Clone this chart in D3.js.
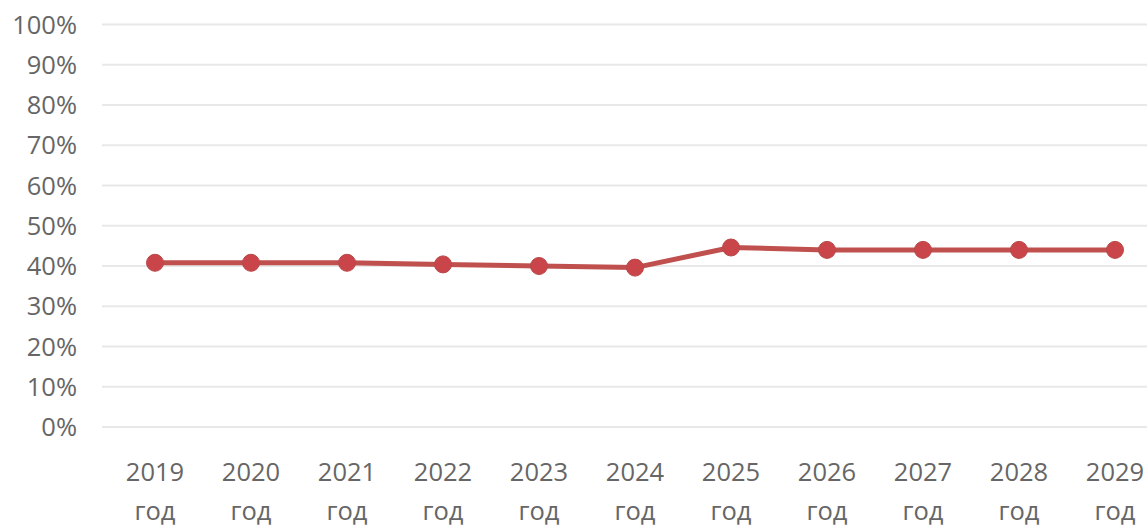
<!DOCTYPE html>
<html><head><meta charset="utf-8">
<script src="https://cdn.jsdelivr.net/npm/d3@7"></script>
<style>body{margin:0;background:#fff;} svg{display:block;} text{font-family:"Open Sans",sans-serif;fill:#666666;}</style>
</head><body>
<svg id="c" width="1147" height="526"></svg>
<script>
const categories = ["2019","2020","2021","2022","2023","2024","2025","2026","2027","2028","2029"];
const categorySuffix = "год";
const values = [0.408,0.408,0.408,0.404,0.400,0.396,0.446,0.440,0.440,0.440,0.440];
const yTicks = [0,0.1,0.2,0.3,0.4,0.5,0.6,0.7,0.8,0.9,1.0];

(function(){
const svg = d3.select("#c");
const gridLeft = 102, mLeft = 107, mTop = 24.5, mBottom = 427, mRight = 1163;
const x = d3.scaleBand().domain(categories).range([mLeft, mRight]);
const y = d3.scaleLinear().domain([0,1]).range([mBottom, mTop]);

svg.append("g").selectAll("line").data(yTicks).join("line")
  .attr("x1", gridLeft).attr("x2", 1147)
  .attr("y1", d => y(d)).attr("y2", d => y(d))
  .attr("stroke", "#e8e8e8").attr("stroke-width", 2);

svg.append("g").selectAll("text").data(yTicks).join("text")
  .attr("x", 77).attr("y", d => y(d)).attr("dy", "0.36em")
  .attr("text-anchor", "end").attr("font-size", 25.5)
  .text(d => d3.format(".0%")(d));

const xl = svg.append("g").selectAll("text").data(categories).join("text")
  .attr("text-anchor", "middle").attr("font-size", 25.5);
xl.append("tspan").attr("x", d => x(d) + x.bandwidth()/2).attr("y", 481).text(d => d);
xl.append("tspan").attr("x", d => x(d) + x.bandwidth()/2).attr("y", 520).text(categorySuffix);

const pts = categories.map((c,i) => [x(c) + x.bandwidth()/2, y(values[i])]);
svg.append("path").attr("d", d3.line()(pts))
  .attr("fill", "none").attr("stroke", "#c0504d").attr("stroke-width", 5).attr("stroke-linejoin","round");
svg.append("g").selectAll("circle").data(pts).join("circle")
  .attr("cx", d => d[0]).attr("cy", d => d[1]).attr("r", 8.5)
  .attr("fill", "#c9454a").attr("stroke", "#b9484a").attr("stroke-width", 1);
})();
</script>
</body></html>
